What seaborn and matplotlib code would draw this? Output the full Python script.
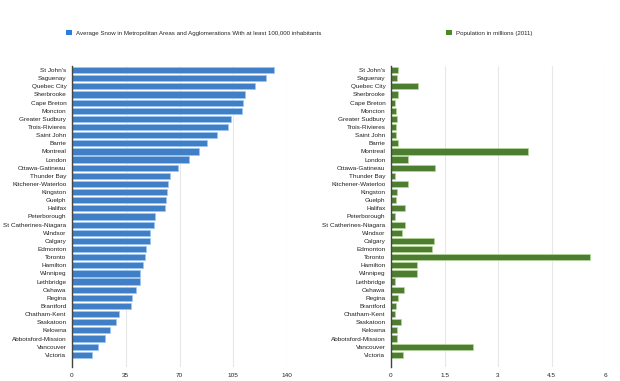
import pandas as pd
import seaborn as sns
import matplotlib
matplotlib.use('Agg')
from matplotlib import pyplot as plt
from matplotlib.patches import Patch

cities = ["St John's", 'Saguenay', 'Quebec City', 'Sherbrooke', 'Cape Breton',
          'Moncton', 'Greater Sudbury', 'Trois-Rivieres', 'Saint John', 'Barrie',
          'Montreal', 'London', 'Ottawa-Gatineau', 'Thunder Bay',
          'Kitchener-Waterloo', 'Kingston', 'Guelph', 'Halifax', 'Peterborough',
          'St Catherines-Niagara', 'Windsor', 'Calgary', 'Edmonton', 'Toronto',
          'Hamilton', 'Winnipeg', 'Lethbridge', 'Oshawa', 'Regina', 'Brantford',
          'Chatham-Kent', 'Saskatoon', 'Kelowna', 'Abbotsford-Mission',
          'Vancouver', 'Victoria']
snow = [131.6, 126.3, 119.2, 112.7, 111.1, 110.7, 103.5, 101.8, 94.2, 87.7,
        82.4, 76.3, 68.7, 63.7, 62.6, 61.6, 60.9, 60.5, 53.9, 53.7, 50.7, 50.5,
        48.3, 47.4, 46.1, 44.6, 44.0, 41.4, 39.1, 38.5, 30.9, 28.5, 24.8, 21.5,
        17.2, 12.8]
population = [0.20, 0.16, 0.77, 0.20, 0.10, 0.14, 0.16, 0.15, 0.13, 0.19,
              3.83, 0.48, 1.24, 0.12, 0.48, 0.16, 0.14, 0.39, 0.12, 0.39, 0.32,
              1.21, 1.16, 5.58, 0.72, 0.73, 0.11, 0.36, 0.21, 0.14, 0.10, 0.27,
              0.18, 0.17, 2.31, 0.34]
snow_ticks = [0, 35, 70, 105, 140]
pop_ticks = [0, 1.5, 3, 4.5, 6]
snow_label = 'Average Snow in Metropolitan Areas and Agglomerations With at least 100,000 inhabitants'
pop_label = 'Population in millions (2011)'

df = pd.DataFrame({'city': cities, 'snow': snow, 'population': population})

sns.set_theme(style='white')
plt.rcParams['font.family'] = ['Liberation Sans', 'DejaVu Sans']

BLUE = '#2a7ddc'
GREEN = '#4a8a24'
FS = 4.6

fig = plt.figure(figsize=(6.2, 3.81), dpi=100)
ax1 = fig.add_axes([72 / 620, 14 / 381, 215 / 620, 301 / 381])
ax2 = fig.add_axes([391 / 620, 14 / 381, 214 / 620, 301 / 381])

panels = [(ax1, 'snow', BLUE, '#9cc8f2', snow_ticks),
          (ax2, 'population', GREEN, '#b5d89a', pop_ticks)]
for ax, col, color, edge, ticks in panels:
    sns.barplot(data=df, y='city', x=col, color=color, orient='h',
                width=0.76, edgecolor=edge, linewidth=0.5, ax=ax)
    ax.set_xlim(ticks[0], ticks[-1])
    ax.set_ylim(len(cities) - 0.5 + 1.0, -0.5)
    ax.set_xticks(ticks)
    ax.set_xticklabels([f'{t:g}' for t in ticks])
    ax.set_xlabel('')
    ax.set_ylabel('')
    ax.grid(axis='x', color='#e8e8e8', linewidth=0.8)
    ax.set_axisbelow(True)
    for side in ['top', 'right', 'bottom']:
        ax.spines[side].set_visible(False)
    ax.spines['left'].set_color('#444444')
    ax.spines['left'].set_linewidth(1.0)
    ax.tick_params(axis='both', length=0, labelsize=FS, colors='#222222')
    ax.tick_params(axis='y', pad=4)
    ax.tick_params(axis='x', pad=4)

fig.legend(handles=[Patch(facecolor=BLUE, edgecolor='none', label=snow_label)],
           loc='center left', bbox_to_anchor=(66 / 620, 1 - 33 / 381),
           frameon=False, fontsize=4.4, handlelength=0.9, handleheight=0.9,
           handletextpad=0.7, borderpad=0, borderaxespad=0)
fig.legend(handles=[Patch(facecolor=GREEN, edgecolor='none', label=pop_label)],
           loc='center left', bbox_to_anchor=(446 / 620, 1 - 33 / 381),
           frameon=False, fontsize=4.4, handlelength=0.9, handleheight=0.9,
           handletextpad=0.7, borderpad=0, borderaxespad=0)

fig.savefig('out.png', dpi=100)
